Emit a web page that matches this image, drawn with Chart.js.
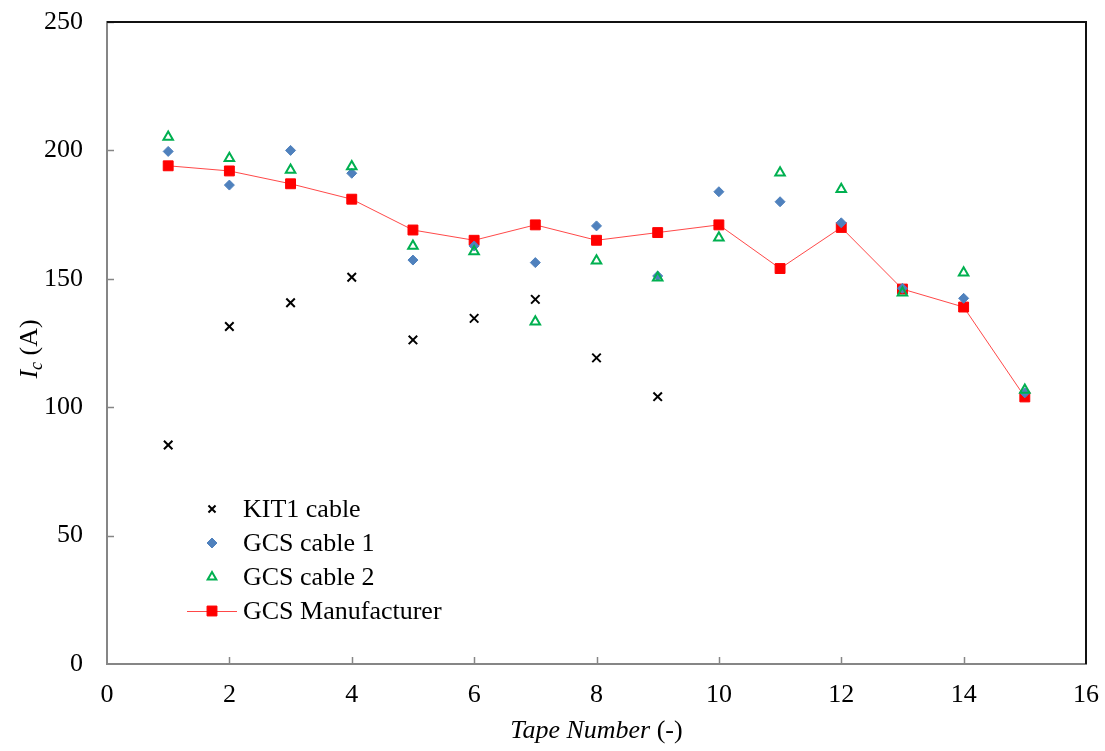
<!DOCTYPE html>
<html>
<head>
<meta charset="utf-8">
<title>Ic per tape</title>
<script src="https://cdn.jsdelivr.net/npm/chart.js@4.4.1/dist/chart.umd.min.js"></script>
<style>
    html, body {
        margin: 0;
        padding: 0;
        background: #FFFFFF;
    }
    #wrap {
        width: 1105px;
        height: 751px;
    }
</style>
</head>
<body>
<div id="wrap">
    <canvas id="icChart" width="1105" height="751"></canvas>
</div>

<script>
/*
    Critical current per tape, KIT1 cable vs GCS cables
*/

const tapeNumbers = [1, 2, 3, 4, 5, 6, 7, 8, 9, 10, 11, 12, 13, 14, 15];

const kit1Cable = [85.3, 131.4, 140.7, 150.6, 126.2, 134.6, 142.0, 119.2, 104.1];

const gcsCable1 = [199.6, 186.5, 200.0, 191.1, 157.3, 162.8, 156.3, 170.6, 151.1, 183.9, 180.0, 171.8, 146.3, 142.4, 105.6];

const gcsCable2 = [205.2, 196.9, 192.4, 193.7, 162.8, 160.6, 133.3, 157.0, 150.4, 166.0, 191.3, 184.9, 144.6, 152.4, 106.7];

const gcsManufacturer = [194, 192, 187, 181, 169, 165, 171, 165, 168, 171, 154, 170, 146, 139, 104];

const xTickValues = [0, 2, 4, 6, 8, 10, 12, 14, 16];

const yTickValues = [0, 50, 100, 150, 200, 250];

const legendLabels = ["KIT1 cable", "GCS cable 1", "GCS cable 2", "GCS Manufacturer"];

const FONT = "'Liberation Serif', 'Times New Roman', serif";
const AXIS_GREY = "#868686";

document.addEventListener("DOMContentLoaded", () => {

    initializeIcChart();

});

function toPoints(values) {

    return values.map((v, i) => ({ x: tapeNumbers[i], y: v }));

}

// inward tick marks + black top/right frame
const frameTicksPlugin = {

    id: "frameTicks",

    afterDraw(chart) {

        const ctx = chart.ctx;
        const area = chart.chartArea;
        const xs = chart.scales.x;
        const ys = chart.scales.y;

        ctx.save();

        ctx.strokeStyle = AXIS_GREY;
        ctx.lineWidth = 1.5;

        xTickValues.forEach(v => {
            if (v === 0 || v === 16) return;
            const px = Math.round(xs.getPixelForValue(v)) + 0.5;
            ctx.beginPath();
            ctx.moveTo(px, area.bottom);
            ctx.lineTo(px, area.bottom - 7);
            ctx.stroke();
        });

        yTickValues.forEach(v => {
            if (v === 0) return;
            const py = Math.round(ys.getPixelForValue(v)) + 0.5;
            ctx.beginPath();
            ctx.moveTo(area.left, py);
            ctx.lineTo(area.left + 7, py);
            ctx.stroke();
        });

        ctx.strokeStyle = "#111111";
        ctx.lineWidth = 2;
        ctx.beginPath();
        ctx.moveTo(area.left, area.top);
        ctx.lineTo(area.right, area.top);
        ctx.lineTo(area.right, area.bottom);
        ctx.stroke();

        ctx.restore();

    }

};

// axis titles with italic / subscript parts
const axisTitlesPlugin = {

    id: "axisTitles",

    afterDraw(chart) {

        const ctx = chart.ctx;
        const area = chart.chartArea;

        ctx.save();
        ctx.fillStyle = "#000000";
        ctx.textBaseline = "alphabetic";
        ctx.textAlign = "left";

        // x title
        const partA = "Tape Number";
        const partB = " (-)";
        ctx.font = "italic 26px " + FONT;
        const wA = ctx.measureText(partA).width;
        ctx.font = "26px " + FONT;
        const wB = ctx.measureText(partB).width;
        let startX = (area.left + area.right) / 2 - (wA + wB) / 2;
        ctx.font = "italic 26px " + FONT;
        ctx.fillText(partA, startX, 738);
        ctx.font = "26px " + FONT;
        ctx.fillText(partB, startX + wA, 738);

        // y title
        ctx.translate(37, (area.top + area.bottom) / 2 + 6);
        ctx.rotate(-Math.PI / 2);
        ctx.font = "italic 26px " + FONT;
        const wI = ctx.measureText("I").width;
        ctx.font = "italic 18px " + FONT;
        const wc = ctx.measureText("c").width;
        ctx.font = "26px " + FONT;
        const wP = ctx.measureText(" (A)").width;
        const sx = -(wI + wc + wP) / 2;
        ctx.font = "italic 26px " + FONT;
        ctx.fillText("I", sx, 0);
        ctx.font = "italic 18px " + FONT;
        ctx.fillText("c", sx + wI, 5);
        ctx.font = "26px " + FONT;
        ctx.fillText(" (A)", sx + wI + wc, 0);

        ctx.restore();

    }

};

// legend sits inside the plot, lower left
const insideLegendPlugin = {

    id: "insideLegend",

    afterDatasetsDraw(chart) {

        const ctx = chart.ctx;
        const area = chart.chartArea;
        const markerX = area.left + 105;
        const textX = area.left + 136;
        const rowY = [509, 543, 577, 611];

        ctx.save();

        chart.data.datasets.forEach((ds, i) => {

            const y = rowY[i];

            if (ds.showLine) {
                ctx.strokeStyle = ds.borderColor;
                ctx.lineWidth = ds.borderWidth;
                ctx.beginPath();
                ctx.moveTo(markerX - 25, y + 0.5);
                ctx.lineTo(markerX + 25, y + 0.5);
                ctx.stroke();
            }

            ctx.fillStyle = ds.pointBackgroundColor;
            ctx.strokeStyle = ds.pointBorderColor;
            ctx.lineWidth = ds.pointBorderWidth;

            Chart.helpers.drawPoint(ctx, {
                pointStyle: ds.pointStyle,
                radius: ds.legendRadius,
                rotation: 0,
                borderWidth: ds.pointBorderWidth
            }, markerX, y);

            ctx.fillStyle = "#000000";
            ctx.font = "26px " + FONT;
            ctx.textAlign = "left";
            ctx.textBaseline = "middle";
            ctx.fillText(legendLabels[i], textX, y + 1);

        });

        ctx.restore();

    }

};

function initializeIcChart() {

    const canvas = document.getElementById("icChart");

    if (!canvas) {

        return;

    }

    new Chart(canvas, {

        type: "scatter",

        data: {

            datasets: [

                {
                    label: legendLabels[0],
                    data: toPoints(kit1Cable),
                    pointStyle: "crossRot",
                    pointRadius: 6,
                    legendRadius: 5,
                    pointBorderWidth: 2,
                    pointBorderColor: "#000000",
                    pointBackgroundColor: "#000000",
                    borderColor: "#000000",
                    order: 1
                },

                {
                    label: legendLabels[1],
                    data: toPoints(gcsCable1),
                    pointStyle: "rectRot",
                    pointRadius: 5,
                    legendRadius: 5,
                    pointBorderWidth: 1,
                    pointBorderColor: "#4F81BD",
                    pointBackgroundColor: "#4F81BD",
                    borderColor: "#4F81BD",
                    order: 3
                },

                {
                    label: legendLabels[2],
                    data: toPoints(gcsCable2),
                    pointStyle: "triangle",
                    pointRadius: 5.5,
                    legendRadius: 5,
                    pointBorderWidth: 2,
                    pointBorderColor: "#00B050",
                    pointBackgroundColor: "rgba(255,255,255,0)",
                    borderColor: "#00B050",
                    order: 2
                },

                {
                    label: legendLabels[3],
                    data: toPoints(gcsManufacturer),
                    showLine: true,
                    pointStyle: "rect",
                    pointRadius: 7,
                    legendRadius: 7,
                    pointBorderWidth: 1,
                    pointBorderColor: "#FF0000",
                    pointBackgroundColor: "#FF0000",
                    borderColor: "rgba(255,40,40,0.85)",
                    borderWidth: 1,
                    tension: 0,
                    order: 4
                }

            ]

        },

        options: {

            responsive: false,

            animation: false,

            devicePixelRatio: 1,

            events: [],

            layout: {

                padding: {
                    top: 22,
                    right: 19,
                    left: 0,
                    bottom: 0
                }

            },

            plugins: {

                legend: {
                    display: false
                },

                tooltip: {
                    enabled: false
                }

            },

            scales: {

                x: {

                    type: "linear",

                    min: 0,

                    max: 16,

                    afterBuildTicks: scale => {
                        scale.ticks = xTickValues.map(v => ({ value: v }));
                    },

                    afterFit: scale => {
                        scale.height = 87;
                        scale.paddingLeft = 0;
                        scale.paddingRight = 0;
                    },

                    grid: {
                        display: false,
                        drawTicks: false
                    },

                    border: {
                        display: true,
                        color: AXIS_GREY,
                        width: 2
                    },

                    ticks: {
                        padding: 16,
                        color: "#000000",
                        maxRotation: 0,
                        font: {
                            family: FONT,
                            size: 26
                        }
                    }

                },

                y: {

                    type: "linear",

                    min: 0,

                    max: 250,

                    afterBuildTicks: scale => {
                        scale.ticks = yTickValues.map(v => ({ value: v }));
                    },

                    afterFit: scale => {
                        scale.width = 107;
                        scale.paddingTop = 0;
                        scale.paddingBottom = 0;
                    },

                    grid: {
                        display: false,
                        drawTicks: false
                    },

                    border: {
                        display: true,
                        color: AXIS_GREY,
                        width: 2
                    },

                    ticks: {
                        padding: 24,
                        color: "#000000",
                        font: {
                            family: FONT,
                            size: 26
                        }
                    }

                }

            }

        },

        plugins: [frameTicksPlugin, axisTitlesPlugin, insideLegendPlugin]

    });

}
</script>
</body>
</html>
